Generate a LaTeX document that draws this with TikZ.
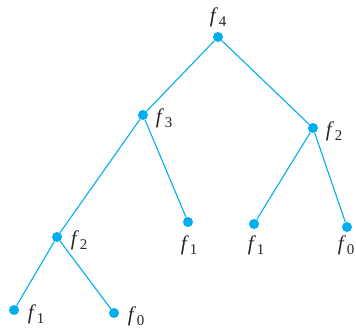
\documentclass[tikz,border=0pt]{standalone}
\usepackage{fontspec}
\setmainfont{Liberation Serif}
\definecolor{treeblue}{RGB}{0,174,239}
\newcommand{\fl}[1]{\textit{f}\kern0.8pt\raisebox{-0.45ex}{\fontsize{15}{15}\selectfont #1}}
\begin{document}
\begin{tikzpicture}[x=1bp,y=-1bp,
  dot/.style={circle,fill=treeblue,inner sep=0pt,minimum size=10bp},
  edge/.style={treeblue,line width=1.1bp},
  lab/.style={font=\fontsize{21}{23}\selectfont,inner sep=0pt,text=black!85}]
\useasboundingbox (0,0) rectangle (356,330);
\node[dot] (r) at (218,37) {};
\node[dot] (a) at (143,115) {};
\node[dot] (b) at (313,128) {};
\node[dot] (c) at (57,237) {};
\node[dot] (d) at (188,222) {};
\node[dot] (e) at (254,224) {};
\node[dot] (g) at (347,227) {};
\node[dot] (h) at (14,310) {};
\node[dot] (k) at (114,313) {};
\draw[edge] (r) -- (a);
\draw[edge] (r) -- (b);
\draw[edge] (a) -- (c);
\draw[edge] (a) -- (d);
\draw[edge] (b) -- (e);
\draw[edge] (b) -- (g);
\draw[edge] (c) -- (h);
\draw[edge] (c) -- (k);
\node[lab] (lr) at (218,17) {\fl{4}};
\node[lab] (la) at (164,118) {\fl{3}};
\node[lab] (lb) at (334,131) {\fl{2}};
\node[lab] (lc) at (79,240) {\fl{2}};
\node[lab] (ld) at (189,245) {\fl{1}};
\node[lab] (le) at (256,245) {\fl{1}};
\node[lab] (lg) at (346,245) {\fl{0}};
\node[lab] (lh) at (36,314) {\fl{1}};
\node[lab] (lk) at (136,316) {\fl{0}};
\end{tikzpicture}
\end{document}
